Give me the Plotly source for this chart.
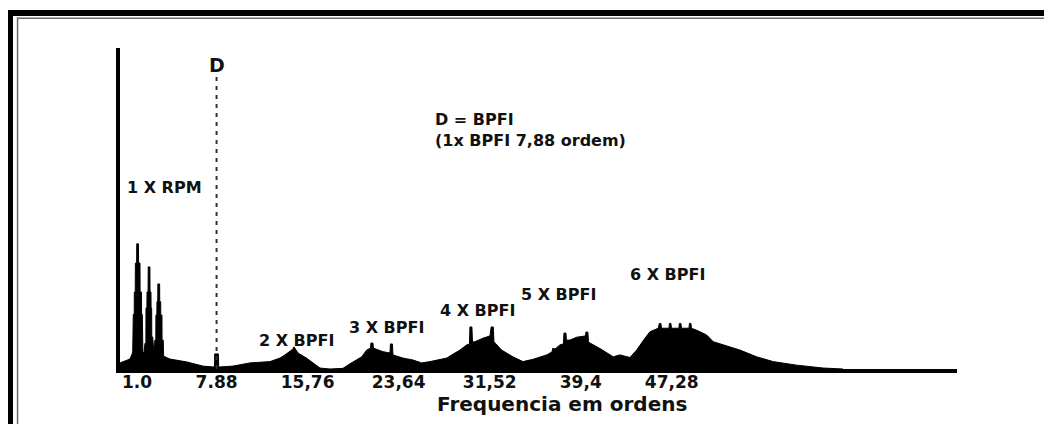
import plotly.graph_objects as go

# Envelope spectrum of a bearing with an inner-race defect (BPFI = 7.88 orders)
ORDERS = [
    -0.48, 0.38, 0.55,
    0.62, 0.67, 0.75, 0.76, 0.84, 0.85, 0.96, 0.97, 1.12, 1.13, 1.25, 1.26, 1.38, 1.39, 1.45, 1.50,
    1.60, 1.68, 1.76, 1.77, 1.85, 1.86, 1.95, 1.96, 2.11, 2.12, 2.20, 2.21, 2.26, 2.27, 2.35, 2.42,
    2.50, 2.54, 2.62, 2.63, 2.71, 2.72, 2.79, 2.80, 2.95, 2.96, 3.04, 3.05, 3.15, 3.16, 3.26, 3.30,
    3.84, 5.31, 6.70, 7.70, 7.72, 8.04, 8.06,
    9.30, 10.77, 12.50, 13.36, 13.80, 14.23, 14.49, 14.58, 14.71, 14.92, 15.66, 16.22, 16.83,
    17.69, 18.82, 19.42, 20.00, 20.44, 20.87, 21.20, 21.24, 21.41, 21.46, 22.28, 22.89, 22.93,
    23.10, 23.15, 24.01, 24.88, 25.63, 26.35, 27.79, 28.94, 29.53, 29.77, 29.81, 29.98, 30.03,
    30.24, 30.94, 31.54, 31.65, 31.83, 31.89, 32.55, 33.53, 34.40, 35.26, 36.45, 36.91, 36.99,
    37.17, 37.60, 37.90, 37.95, 38.12, 38.16, 38.47, 39.05, 39.81, 39.85, 40.02, 40.07, 40.20,
    41.06, 42.21, 42.79, 43.66, 44.24, 44.96, 45.39, 46.11,
    46.21, 46.34, 46.39, 47.04, 47.08, 47.21, 47.25, 47.90, 47.94, 48.07, 48.12, 48.77, 48.81,
    48.94, 48.98, 49.43, 50.30, 50.87, 51.74, 53.18, 54.63, 56.06, 58.09, 60.39, 62.10,
]
AMPLITUDE = [
    1.9, 3.1, 4.5,
    5.3, 17.0, 17.0, 24.0, 24.0, 33.0, 33.0, 39.0, 39.0, 33.0, 33.0, 24.0, 24.0, 17.0, 17.0, 5.3,
    5.0, 8.0, 8.0, 19.0, 19.0, 24.0, 24.0, 31.8, 31.8, 24.0, 24.0, 19.0, 19.0, 10.0, 10.0, 6.5,
    6.5, 9.0, 9.0, 16.8, 16.8, 21.0, 21.0, 26.5, 26.5, 21.0, 21.0, 16.8, 16.8, 9.0, 9.0, 4.0,
    3.1, 2.2, 0.9, 0.6, 4.7, 4.7, 0.6,
    0.9, 1.9, 2.3, 3.4, 4.4, 5.5, 6.2, 6.9, 6.2, 5.0, 3.4, 1.9, 0.3,
    0.0, 0.2, 1.6, 2.8, 3.8, 5.9, 6.5, 8.1, 8.1, 6.5, 5.4, 5.0, 7.8,
    7.8, 4.4, 3.4, 2.8, 1.9, 2.3, 3.4, 5.9, 7.5, 7.8, 13.1, 13.1, 8.4,
    8.5, 9.6, 10.3, 13.1, 13.1, 8.5, 5.9, 3.8, 2.3, 3.0, 4.4, 5.3, 6.5,
    6.2, 7.5, 7.8, 11.2, 11.2, 9.0, 9.0, 9.9, 10.3, 11.5, 11.5, 8.5, 8.1,
    6.4, 3.8, 4.4, 3.6, 5.9, 9.6, 11.6, 12.7,
    14.2, 14.2, 12.7, 12.7, 14.2, 14.2, 12.7, 12.7, 14.2, 14.2, 12.7, 12.7, 14.2,
    14.2, 12.7, 12.1, 10.6, 8.5, 7.5, 5.9, 3.8, 2.3, 1.2, 0.3, 0.0,
]

BPFI_ORDER = 7.88
TICK_ORDERS = [1.0, 7.88, 15.76, 23.64, 31.52, 39.4, 47.28]
TICK_LABELS = ["1.0", "7.88", "15,76", "23,64", "31,52", "39,4", "47,28"]
HARMONIC_NAMES = ["2 X BPFI", "3 X BPFI", "4 X BPFI", "5 X BPFI", "6 X BPFI"]

W, H = 1044, 424
M_L, M_R, M_T, M_B = 120, 87, 48, 55
PLOT_W, PLOT_H = W - M_L - M_R, H - M_T - M_B


def paper_x(px):
    return (px - M_L) / PLOT_W


def paper_y(py):
    return (H - M_B - py) / PLOT_H


FONT = "DejaVu Sans"
INK = "#111111"

fig = go.Figure()
fig.add_trace(go.Scatter(
    x=ORDERS, y=AMPLITUDE, mode="lines",
    line=dict(color="black", width=1),
    fill="tozeroy", fillcolor="black",
    hoverinfo="skip", showlegend=False,
))

# dotted marker at the fundamental defect frequency
fig.add_shape(type="line", xref="x", yref="y",
              x0=BPFI_ORDER, x1=BPFI_ORDER, y0=0, y1=91,
              line=dict(color="#333333", width=2, dash="4px,5px"))

annotations = [
    dict(x=BPFI_ORDER, y=94.7, text="<b>D</b>", font=dict(family=FONT, size=19, color=INK)),
    dict(x=3.41, y=56.4, text="<b>1 X RPM</b>", font=dict(family=FONT, size=16, color=INK)),
    dict(x=26.61, y=74.6, text="<b>D = BPFI<br>(1x BPFI 7,88 ordem)</b>",
         xanchor="left", align="left",
         font=dict(family=FONT, size=16, color=INK)),
]
label_pos = [(14.84, 9.0), (22.63, 12.8), (30.50, 18.1), (37.51, 23.1), (46.95, 29.3)]
for name, (lx, ly) in zip(HARMONIC_NAMES, label_pos):
    annotations.append(dict(x=lx, y=ly, text=f"<b>{name}</b>",
                            font=dict(family=FONT, size=16, color=INK)))
for a in annotations:
    a.update(xref="x", yref="y", showarrow=False, yanchor="middle")
    a.setdefault("xanchor", "center")

annotations.append(dict(
    xref="paper", yref="paper", x=paper_x(562), y=paper_y(404),
    text="<b>Frequencia em ordens</b>", showarrow=False,
    xanchor="center", yanchor="middle",
    font=dict(family=FONT, size=20, color=INK),
))

# page frame: heavy black rule with a thin grey rule inside it (top and left)
frame = [
    dict(x0=8, x1=W + 10, y0=10, y1=16, fill="black"),
    dict(x0=8, x1=13, y0=10, y1=H + 10, fill="black"),
    dict(x0=17, x1=W + 10, y0=17.5, y1=19, fill="#6a6a6a"),
    dict(x0=16.8, x1=18.3, y0=17.5, y1=H + 10, fill="#6a6a6a"),
]
for f in frame:
    fig.add_shape(type="rect", xref="paper", yref="paper",
                  x0=paper_x(f["x0"]), x1=paper_x(f["x1"]),
                  y0=paper_y(f["y1"]), y1=paper_y(f["y0"]),
                  fillcolor=f["fill"], line=dict(width=0), layer="above")

fig.update_layout(
    width=W, height=H,
    margin=dict(l=M_L, r=M_R, t=M_T, b=M_B, pad=0),
    paper_bgcolor="white", plot_bgcolor="white",
    annotations=annotations,
    showlegend=False,
    xaxis=dict(
        range=[-0.48, 71.97], showgrid=False, zeroline=False,
        showline=True, linecolor="black", linewidth=3.5,
        tickmode="array", tickvals=TICK_ORDERS, ticktext=TICK_LABELS,
        ticks="", ticklabelstandoff=-5,
        tickfont=dict(family=FONT, size=17, color=INK, weight="bold"),
    ),
    yaxis=dict(
        range=[0, 100], showgrid=False, zeroline=False,
        showline=True, linecolor="black", linewidth=3.5,
        showticklabels=False, ticks="",
    ),
)

fig.write_html("out.html")
